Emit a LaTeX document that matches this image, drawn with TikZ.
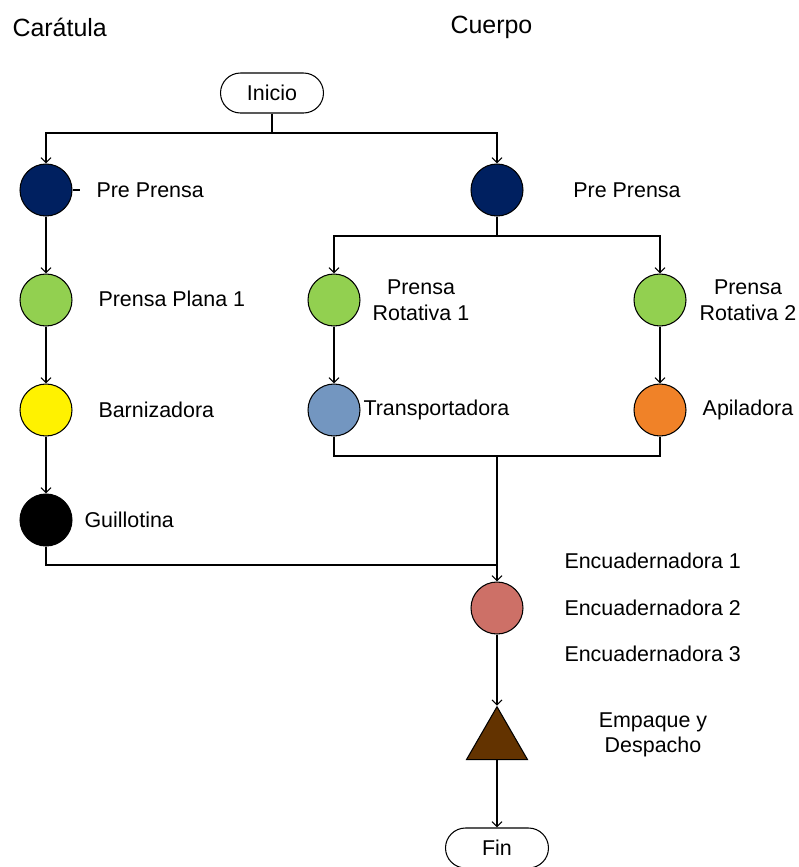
\documentclass[tikz,border=0pt]{standalone}
\usepackage{fontspec}
\setmainfont{Liberation Sans}
\usetikzlibrary{positioning,shapes.geometric,arrows.meta}

\definecolor{navy}{RGB}{0,32,96}
\definecolor{lgreen}{RGB}{146,208,80}
\definecolor{lblue}{RGB}{115,150,192}
\definecolor{orng}{RGB}{240,130,40}
\definecolor{salmon}{RGB}{205,112,103}
\definecolor{brwn}{RGB}{99,51,0}

\begin{document}
\begin{tikzpicture}[x=0.02cm, y=-0.02cm, line width=0.6pt,
	>={Straight Barb[length=0.1cm,width=0.2cm]},
	every node/.style = {font=\fontsize{12.2}{14.6}\selectfont},
	main/.style = {draw, circle, inner sep=0pt, minimum size=1.04cm},
	term/.style = {draw, rounded corners=0.4cm, minimum width=2.06cm, minimum height=0.8cm, inner sep=0pt},
	lbl/.style = {inner sep=0pt, align=center},
	title/.style = {inner sep=0pt, anchor=west, font=\fontsize{14.2}{17}\selectfont}]
	\useasboundingbox (0,0) rectangle (799,867);

	% Titles
	\node[title] (T1) at (12,27) {Carátula};
	\node[title] (T2) at (450,27) {Cuerpo};

	\node[term] (ini) at (272,93) {Inicio};

	% Caratula
	\node[main, fill=navy] (ppL) at (46,190) {};
	\node[main, fill=lgreen] (pp1) at (46,300) {};
	\node[main, fill=yellow] (bar) at (46,410) {};
	\node[main, fill=black] (gui) at (46,520) {};

	% Cuerpo
	\node[main, fill=navy] (ppR) at (497,190) {};
	\node[main, fill=lgreen] (pr1) at (334,300) {};
	\node[main, fill=lgreen] (pr2) at (660,300) {};
	\node[main, fill=lblue] (tra) at (334,410) {};
	\node[main, fill=orng] (api) at (660,410) {};

	\node[main, fill=salmon] (enc) at (497,608) {};
	\node[draw, fill=brwn, regular polygon, regular polygon sides=3, inner sep=0pt, minimum size=1.41cm] (emp) at (497,742) {};
	\node[term] (fin) at (497,848) {Fin};

	% Labels
	\node[lbl, anchor=west] (lppL) at (96,190) {Pre Prensa};
	\node[lbl, anchor=west] (lpp1) at (98,299) {Prensa Plana 1};
	\node[lbl, anchor=west] (lbar) at (98,410) {Barnizadora};
	\node[lbl, anchor=west] (lgui) at (84,520) {Guillotina};
	\node[lbl] (lppR) at (627,190) {Pre Prensa};
	\node[lbl] (lpr1) at (421,300) {Prensa\\Rotativa 1};
	\node[lbl] (lpr2) at (748,300) {Prensa\\Rotativa 2};
	\node[lbl, anchor=west] (ltra) at (363,410) {Transportadora};
	\node[lbl] (lapi) at (748,410) {Apiladora};
	\node[lbl, anchor=west] (le1) at (564,561) {Encuadernadora 1};
	\node[lbl, anchor=west] (le2) at (564,608) {Encuadernadora 2};
	\node[lbl, anchor=west] (le3) at (564,654) {Encuadernadora 3};
	\node[lbl] (lemp) at (653,735) {Empaque y\\Despacho};

	% Junctions
	\coordinate (s1) at (272,133);
	\coordinate (s2) at (497,236);
	\coordinate (s3) at (497,456);
	\coordinate (s4) at (497,565);

	\draw (ini) -- (s1);
	\draw[->] (s1) -| (ppL);
	\draw[->] (s1) -| (ppR);
	\draw (ppL.east) -- ++(7,0);

	\draw[->] (ppL) -- (pp1);
	\draw[->] (pp1) -- (bar);
	\draw[->] (bar) -- (gui);
	\draw (gui) |- (s4);

	\draw (ppR) -- (s2);
	\draw[->] (s2) -| (pr1);
	\draw[->] (s2) -| (pr2);
	\draw[->] (pr1) -- (tra);
	\draw[->] (pr2) -- (api);
	\draw (tra) |- (s3) -| (api);

	\draw[->] (s3) -- (enc);
	\draw[->] (enc) -- (emp);
	\draw[->] (emp) -- (fin);

\end{tikzpicture}
\end{document}
